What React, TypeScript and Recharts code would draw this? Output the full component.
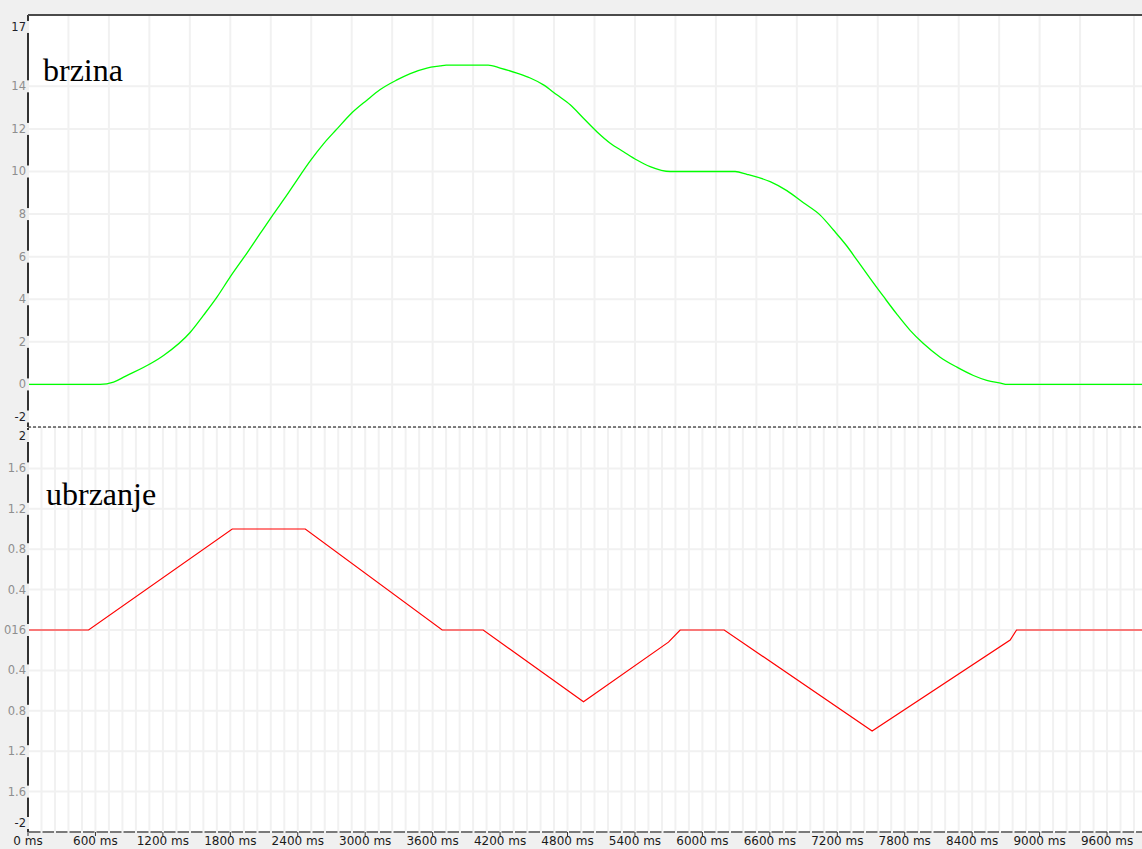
import React from 'react';
import { LineChart, Line, XAxis, YAxis, CartesianGrid, ReferenceLine } from 'recharts';

// ---- data ----
const SPEED_T = [0, 643, 761, 865, 1088, 1206, 1444, 1562, 1681, 1799, 1948, 2066, 2185, 2304, 2393, 2511, 2629, 2749, 2867, 3015, 3134, 3282, 3401, 3549, 3667, 3720, 4094, 4201, 4350, 4468, 4586, 4705, 4824, 4942, 5061, 5180, 5298, 5417, 5535, 5713, 6291, 6396, 6603, 6751, 6899, 7048, 7166, 7285, 7374, 7492, 7611, 7730, 7848, 7966, 8115, 8264, 8411, 8530, 8678, 8702, 9911];
const SPEED_V = [0, 0, 0.11, 0.38, 0.97, 1.36, 2.45, 3.25, 4.1, 5.05, 6.17, 7.09, 8.01, 8.9, 9.6, 10.5, 11.3, 12.0, 12.68, 13.35, 13.85, 14.3, 14.6, 14.86, 14.96, 15, 15, 14.86, 14.62, 14.39, 14.07, 13.6, 13.13, 12.5, 11.87, 11.33, 10.93, 10.54, 10.23, 10.0, 10.0, 9.87, 9.52, 9.1, 8.53, 7.95, 7.25, 6.5, 5.85, 4.98, 4.13, 3.3, 2.54, 1.92, 1.28, 0.81, 0.42, 0.19, 0.03, 0, 0];

const ACC_T = [0, 539, 1817, 2467, 3685, 4050, 4942, 5698, 5802, 6194, 7510, 8738, 8795, 9911];
const ACC_V = [0, 0, 1, 1, 0, 0, -0.71, -0.12, 0, 0, -1.0, -0.1, 0, 0];

const X_MAX = 9911;
const X_TICKS = [0, 600, 1200, 1800, 2400, 3000, 3600, 4200, 4800, 5400, 6000, 6600, 7200, 7800, 8400, 9000, 9600];
const X_GRID = Array.from({ length: 83 }, (_, i) => i * 120);

const TOP_Y_TICKS = [-2, 0, 2, 4, 6, 8, 10, 12, 14, 17];
const TOP_Y_GRID = [0, 2, 4, 6, 8, 10, 12, 14];
const BOT_Y_TICKS = [-2, -1.6, -1.2, -0.8, -0.4, 0, 0.4, 0.8, 1.2, 1.6, 2];
const BOT_Y_GRID = [-1.6, -1.2, -0.8, -0.4, 0, 0.4, 0.8, 1.2, 1.6];

const speedData = SPEED_T.map((t, i) => ({ t, v: SPEED_V[i] }));
const accData = ACC_T.map((t, i) => ({ t, a: ACC_V[i] }));

const BG = '#f0f0f0';
const GRID = '#f1f1f1';
const FONT = '"DejaVu Sans", Verdana, sans-serif';

const topYTick = (p: any) => {
  const v = p.payload.value;
  const edge = v === 17 || v === -2;
  const cy = p.y + (v === 17 ? 4.5 : v === -2 ? -10.5 : 0);
  return (
    <g>
      <rect x={0} y={cy - 6} width={29} height={12} fill={BG} />
      <text x={26} y={cy + 4} textAnchor="end" fontSize={11.5} fontFamily={FONT} fill={edge ? '#1e1e28' : '#8e8e8e'}>
        {String(v)}
      </text>
    </g>
  );
};

const botYTick = (p: any) => {
  const v = p.payload.value;
  const edge = v === 2 || v === -2;
  const cy = p.y + (v === 2 ? 8 : v === -2 ? -9 : 0);
  let label = edge ? String(v) : Math.abs(v).toFixed(1);
  if (v === 0) label = '016';
  return (
    <g>
      <rect x={0} y={cy - 6} width={29} height={12} fill={BG} />
      <text x={26} y={cy + 4} textAnchor="end" fontSize={11.5} fontFamily={FONT} fill={edge ? '#1e1e28' : '#8e8e8e'}>
        {label}
      </text>
    </g>
  );
};

const xTick = (p: any) => {
  const v = p.payload.value;
  return (
    <g>
      <line x1={p.x} x2={p.x} y1={p.y} y2={p.y + 4} stroke="#333" strokeWidth={1} />
      <text x={p.x} y={p.y + 13} textAnchor="middle" fontSize={12} fontFamily={FONT} fill="#1a1a1a">
        {`${v} ms`}
      </text>
    </g>
  );
};

export default function App() {
  return (
    <div style={{ position: 'absolute', left: 0, top: 0, width: 1142, height: 849, background: BG, overflow: 'hidden' }}>
      <div style={{ position: 'absolute', left: 0, top: 0 }}>
        <LineChart width={1142} height={428} data={speedData} margin={{ top: 15, right: 0, left: 0, bottom: 1 }}>
          <CartesianGrid
            fill="#ffffff"
            stroke={GRID}
            strokeWidth={2}
            horizontalValues={TOP_Y_GRID}
            verticalValues={X_GRID}
          />
          <XAxis type="number" dataKey="t" domain={[0, X_MAX]} allowDataOverflow ticks={X_TICKS} hide />
          <YAxis
            type="number"
            domain={[-2, 17.35]}
            allowDataOverflow
            ticks={TOP_Y_TICKS}
            width={28}
            tickSize={0}
            tickMargin={0}
            tickLine={false}
            axisLine={{ stroke: '#333', strokeWidth: 2 }}
            tick={topYTick}
            interval={0}
          />
          <ReferenceLine y={-2} stroke="#000" strokeDasharray="3 2" strokeWidth={1} />
          <Line type="monotone" dataKey="v" stroke="#00ff00" strokeWidth={1.3} dot={false} isAnimationActive={false} />
        </LineChart>
      </div>
      <div style={{ position: 'absolute', left: 28, top: 14, width: 1114, height: 2, background: '#4a4a4a' }} />
      <div style={{ position: 'absolute', left: 0, top: 428 }}>
        <LineChart width={1142} height={421} data={accData} margin={{ top: 0, right: 0, left: 0, bottom: 0 }}>
          <CartesianGrid
            fill="#ffffff"
            stroke={GRID}
            strokeWidth={2}
            horizontalValues={BOT_Y_GRID}
            verticalValues={X_GRID}
          />
          <XAxis
            type="number"
            dataKey="t"
            domain={[0, X_MAX]}
            allowDataOverflow
            ticks={X_TICKS}
            interval={0}
            height={17}
            tickSize={0}
            tickMargin={0}
            tickLine={false}
            axisLine={{ stroke: '#7a7a7a', strokeWidth: 2, strokeDasharray: '11.5 2', strokeDashoffset: -1 }}
            tick={xTick}
          />
          <YAxis
            type="number"
            domain={[-2, 2]}
            allowDataOverflow
            ticks={BOT_Y_TICKS}
            width={28}
            tickSize={0}
            tickMargin={0}
            tickLine={false}
            axisLine={{ stroke: '#333', strokeWidth: 2 }}
            tick={botYTick}
            interval={0}
          />
          <Line type="linear" dataKey="a" stroke="#ff0000" strokeWidth={1.2} dot={false} isAnimationActive={false} />
        </LineChart>
      </div>
      <div style={{ position: 'absolute', left: 43, top: 54, fontFamily: '"Liberation Serif", "Times New Roman", serif', fontSize: 32, lineHeight: '32px', color: '#000' }}>
        brzina
      </div>
      <div style={{ position: 'absolute', left: 46, top: 478, fontFamily: '"Liberation Serif", "Times New Roman", serif', fontSize: 32, lineHeight: '32px', color: '#000' }}>
        ubrzanje
      </div>
    </div>
  );
}
